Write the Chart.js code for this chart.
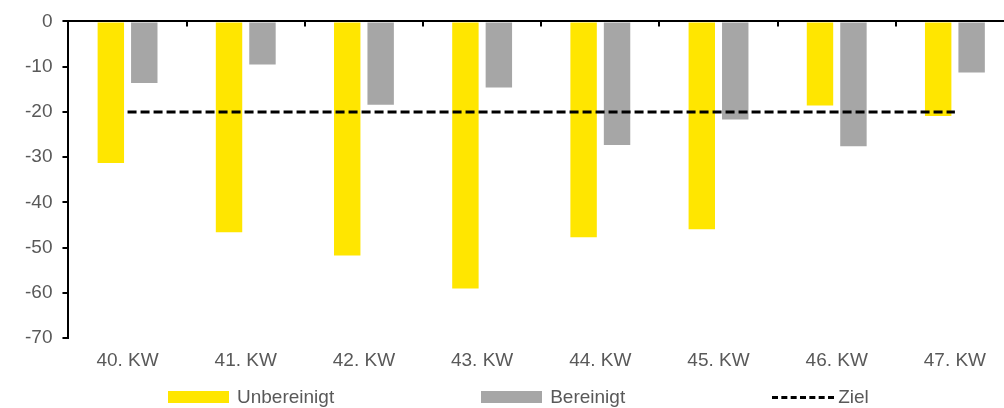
<!DOCTYPE html>
<html>
<head>
<meta charset="utf-8">
<script src="https://cdn.jsdelivr.net/npm/chart.js@4.4.1/dist/chart.umd.min.js"></script>
<style>
    html, body { margin: 0; padding: 0; background: #fff; overflow: hidden; }
    #wrap { position: relative; width: 1016px; height: 408px; }
    #legend {
        position: absolute; left: 168px; top: 386px;
        display: flex; align-items: center;
        font-family: "Liberation Sans", Arial, sans-serif; font-size: 19px; color: #595959;
    }
    #legend .item { display: flex; align-items: center; margin-right: 147px; }
    #legend .box { width: 61px; height: 12px; margin-right: 8px; }
    #legend .dash { width: 62px; height: 0; border-top: 3px dashed #000; margin-right: 4px; }
</style>
</head>
<body>
<div id="wrap">
    <canvas id="bar-chart-grouped" width="1016" height="408"></canvas>
    <div id="legend"></div>
</div>
<script>
const weeks = ["40. KW", "41. KW", "42. KW", "43. KW", "44. KW", "45. KW", "46. KW", "47. KW"];
const unbereinigt = [-31.3, -46.6, -51.7, -59.0, -47.7, -45.9, -18.6, -20.9];
const bereinigt = [-13.6, -9.5, -18.4, -14.6, -27.3, -21.7, -27.6, -11.3];
const ziel = [-20, -20, -20, -20, -20, -20, -20, -20];
const yTicks = [0, -10, -20, -30, -40, -50, -60, -70];

const textColor = "#595959";
const font = { family: "'Liberation Sans', Arial, sans-serif", size: 19 };

// small tick marks on the zero line between the weeks
const boundaryTicks = {
    id: "boundaryTicks",
    afterDatasetsDraw(chart) {
        const x = chart.scales.x, y = chart.scales.y;
        const ctx = chart.ctx;
        const y0 = y.getPixelForValue(0);
        ctx.save();
        ctx.strokeStyle = "#000";
        ctx.lineWidth = 2;
        for (let i = 1; i < weeks.length; i++) {
            const px = Math.round((x.getPixelForValue(i - 1) + x.getPixelForValue(i)) / 2);
            ctx.beginPath();
            ctx.moveTo(px, y0);
            ctx.lineTo(px, y0 + 5);
            ctx.stroke();
        }
        ctx.restore();
    }
};

new Chart(document.getElementById("bar-chart-grouped"), {
    type: "bar",
    data: {
        labels: weeks,
        datasets: [
            {
                label: "Unbereinigt",
                backgroundColor: "#FFE600",
                data: unbereinigt,
                categoryPercentage: 0.566,
                barPercentage: 0.79,
                order: 1
            },
            {
                label: "Bereinigt",
                backgroundColor: "#A6A6A6",
                data: bereinigt,
                categoryPercentage: 0.566,
                barPercentage: 0.79,
                order: 1
            },
            {
                type: "line",
                label: "Ziel",
                data: ziel,
                borderColor: "#000",
                borderWidth: 3,
                borderDash: [9, 4],
                pointRadius: 0,
                fill: false,
                order: 0
            }
        ]
    },
    options: {
        responsive: false,
        animation: false,
        layout: { padding: { left: 15, top: 12, right: 2, bottom: 33 } },
        plugins: {
            legend: { display: false },
            tooltip: { enabled: false }
        },
        scales: {
            x: {
                grid: { display: false },
                border: { display: false },
                ticks: { color: textColor, font: font, padding: 3, maxRotation: 0 }
            },
            y: {
                min: -70,
                max: 0,
                afterBuildTicks: (axis) => { axis.ticks = yTicks.map(v => ({ value: v })); },
                grid: {
                    color: (c) => c.tick && c.tick.value === 0 ? "#000" : "rgba(0,0,0,0)",
                    tickColor: "#000",
                    lineWidth: 2,
                    tickLength: 6
                },
                border: { display: true, color: "#000", width: 2 },
                ticks: { color: textColor, font: font, padding: 10 }
            }
        }
    },
    plugins: [boundaryTicks]
});

// legend below the chart
const legendItems = [
    { text: "Unbereinigt", color: "#FFE600" },
    { text: "Bereinigt", color: "#A6A6A6" },
    { text: "Ziel", dash: true }
];
const legend = document.getElementById("legend");
legendItems.forEach(it => {
    const item = document.createElement("div");
    item.className = "item";
    const mark = document.createElement("span");
    if (it.dash) {
        mark.className = "dash";
    } else {
        mark.className = "box";
        mark.style.background = it.color;
    }
    const label = document.createElement("span");
    label.textContent = it.text;
    item.appendChild(mark);
    item.appendChild(label);
    legend.appendChild(item);
});
</script>
</body>
</html>
